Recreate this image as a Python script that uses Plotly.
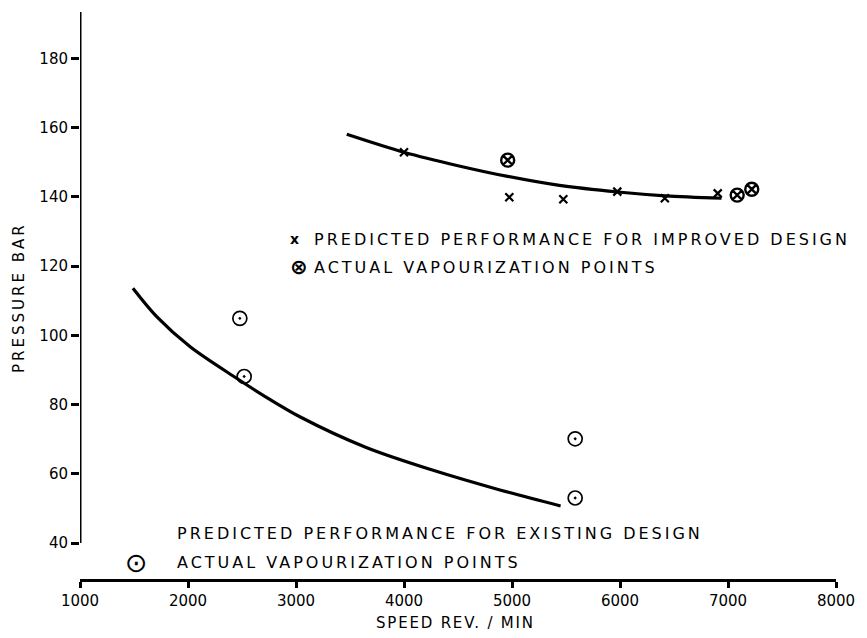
import plotly.graph_objects as go

# ---- data ----
improved_curve_speed = [3470, 4000, 4500, 4960, 5440, 5980, 6420, 6940]
improved_curve_pressure = [158.1, 152.9, 149.0, 145.9, 143.3, 141.4, 140.3, 139.6]

improved_pred_speed = [4000, 4975, 5475, 5975, 6415, 6905]
improved_pred_pressure = [152.9, 139.9, 139.3, 141.5, 139.6, 141.0]

improved_actual_speed = [4960, 7085, 7220]
improved_actual_pressure = [150.6, 140.5, 142.2]

existing_curve_speed = [1490, 1710, 2020, 2450, 2700, 3040, 3650, 4270, 4880, 5450]
existing_curve_pressure = [113.6, 105.4, 96.7, 87.6, 82.6, 76.4, 67.6, 61.0, 55.4, 50.7]

existing_actual_speed = [2480, 2520, 5585, 5585]
existing_actual_pressure = [104.9, 88.1, 70.1, 53.0]

x_ticks = [1000, 2000, 3000, 4000, 5000, 6000, 7000, 8000]
y_ticks = [40, 60, 80, 100, 120, 140, 160, 180]

x_title = "SPEED REV. / MIN"
y_title = "PRESSURE BAR"
legend_improved_pred = "PREDICTED PERFORMANCE FOR IMPROVED DESIGN"
legend_improved_act = "ACTUAL VAPOURIZATION POINTS"
legend_existing_pred = "PREDICTED PERFORMANCE FOR EXISTING DESIGN"
legend_existing_act = "ACTUAL VAPOURIZATION POINTS"

FONT = "DejaVu Sans"
INK = "#000000"


def spaced(t, s=3.0):
    return f'<span style="letter-spacing:{s}px">{t}</span>'


fig = go.Figure()

fig.add_trace(go.Scatter(
    x=improved_curve_speed, y=improved_curve_pressure, mode="lines",
    line=dict(color=INK, width=3.2, shape="spline", smoothing=0.9),
    showlegend=False, hoverinfo="skip"))

fig.add_trace(go.Scatter(
    x=existing_curve_speed, y=existing_curve_pressure, mode="lines",
    line=dict(color=INK, width=3.2, shape="spline", smoothing=0.9),
    showlegend=False, hoverinfo="skip"))

fig.add_trace(go.Scatter(
    x=improved_pred_speed, y=improved_pred_pressure, mode="markers",
    marker=dict(symbol="x-thin", size=8, color=INK, line=dict(color=INK, width=2.2)),
    showlegend=False))

fig.add_trace(go.Scatter(
    x=improved_actual_speed, y=improved_actual_pressure, mode="markers",
    marker=dict(symbol="circle-x-open", size=13, color=INK, line=dict(color=INK, width=2.4)),
    showlegend=False))

fig.add_trace(go.Scatter(
    x=existing_actual_speed, y=existing_actual_pressure, mode="markers",
    marker=dict(symbol="circle-open-dot", size=14, color=INK, line=dict(color=INK, width=1.7)),
    showlegend=False))

annotations = [
    # axis titles
    dict(text=spaced(x_title, 1.8), xref="paper", yref="paper", x=0.497, y=-0.077,
         xanchor="center", yanchor="middle", showarrow=False,
         font=dict(family=FONT, size=15, color=INK)),
    dict(text=spaced(y_title, 3.0), xref="paper", yref="paper", x=-0.081, y=0.497,
         xanchor="center", yanchor="middle", showarrow=False, textangle=-90,
         font=dict(family=FONT, size=15, color=INK)),
    # upper legend
    dict(text="<b>x</b>", xref="x", yref="y", x=2985, y=127.8, xanchor="center",
         yanchor="middle", showarrow=False, font=dict(family=FONT, size=14, color=INK)),
    dict(text=spaced(legend_improved_pred), xref="x", yref="y", x=3150, y=127.8,
         xanchor="left", yanchor="middle", showarrow=False,
         font=dict(family=FONT, size=16, color=INK)),
    dict(text="<b>⊗</b>", xref="x", yref="y", x=3030, y=119.6, xanchor="center",
         yanchor="middle", showarrow=False, font=dict(family=FONT, size=21, color=INK)),
    dict(text=spaced(legend_improved_act), xref="x", yref="y", x=3150, y=119.6,
         xanchor="left", yanchor="middle", showarrow=False,
         font=dict(family=FONT, size=16, color=INK)),
    # lower legend
    dict(text=spaced(legend_existing_pred), xref="x", yref="y", x=1877, y=42.7,
         xanchor="left", yanchor="middle", showarrow=False,
         font=dict(family=FONT, size=16, color=INK)),
    dict(text="⊙", xref="x", yref="y", x=1524, y=34.4, xanchor="center",
         yanchor="middle", showarrow=False, font=dict(family=FONT, size=27, color=INK)),
    dict(text=spaced(legend_existing_act), xref="x", yref="y", x=1877, y=34.4,
         xanchor="left", yanchor="middle", showarrow=False,
         font=dict(family=FONT, size=16, color=INK)),
]

shapes = [
    # vertical pressure axis line (stops at the lowest tick, detached from speed axis)
    dict(type="line", xref="x", yref="y", x0=x_ticks[0], x1=x_ticks[0],
         y0=y_ticks[0], y1=193.4, line=dict(color=INK, width=3)),
]

fig.update_layout(
    width=867, height=638,
    margin=dict(l=80, r=29, t=12, b=59),
    paper_bgcolor="white", plot_bgcolor="white",
    font=dict(family=FONT, size=15, color=INK),
    annotations=annotations, shapes=shapes,
    xaxis=dict(range=[1000, 8000], tickvals=x_ticks, ticktext=[str(v) for v in x_ticks],
               showgrid=False, zeroline=False, showline=True, linecolor=INK, linewidth=3,
               ticks="outside", ticklen=6, tickwidth=2.5, tickcolor=INK,
               tickfont=dict(family=FONT, size=15, color=INK)),
    yaxis=dict(range=[29.6, 193.4], tickvals=y_ticks, ticktext=[str(v) for v in y_ticks],
               showgrid=False, zeroline=False, showline=False,
               ticks="outside", ticklen=8, tickwidth=2.5, tickcolor=INK,
               tickfont=dict(family=FONT, size=15, color=INK)),
)

fig.write_html("out.html")
